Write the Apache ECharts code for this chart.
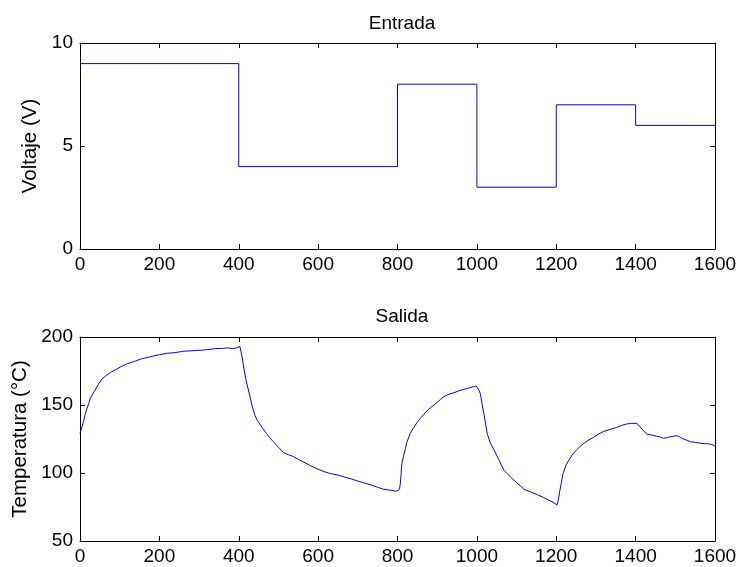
<!DOCTYPE html>
<html>
<head>
<meta charset="utf-8">
<script src="https://cdn.jsdelivr.net/npm/echarts@6/dist/echarts.min.js"></script>
<style>
html,body{margin:0;padding:0;background:#fff;}
#c{width:740px;height:567px;}
</style>
</head>
<body>
<div id="c"></div>
<script>
// Input (Entrada): step changes of voltage
var inTime = [0, 400, 800, 1000, 1200, 1400, 1600];
var inVolt = [9, 4, 8, 3, 7, 6, 6];

// Output (Salida): temperature response
var outTime = [0,5,9,13,17,22,26,32,38,46,55,65,77,90,102,120,137,155,171,185,200,220,239,260,290,315,342,357,370,385,395,403,408,414,420,427,433,440,446,453,460,470,478,487,500,513,525,538,550,564,580,598,615,632,650,667,685,701,718,735,750,765,778,790,797,802,805,807,809,811,815,820,824,832,840,849,857,866,875,883,892,900,908,916,930,942,955,967,980,992,998,1002,1005,1009,1013,1018,1022,1026,1034,1043,1055,1068,1085,1100,1119,1136,1153,1168,1181,1192,1202,1205,1209,1213,1217,1225,1234,1242,1251,1260,1268,1280,1293,1306,1319,1335,1352,1365,1377,1390,1403,1407,1411,1420,1428,1440,1453,1462,1470,1478,1485,1490,1496,1502,1508,1514,1520,1530,1538,1550,1562,1575,1583,1591,1596,1600];
var outTemp = [129,134,138,143,147,151,155,158,161,165,169,171.5,174,176,178,180.5,182,184,185,186,187,188,188.5,189.5,190,190.5,191.5,191.5,192,191.5,192,193,186,175,166,158,150,143,139,136,133,129,126,123,119,115,113.5,112,110,108,105.5,103,101,99.5,98.5,97,95.5,94,92.5,91,89.5,88,87.5,87,86.5,86,88,92,99,107,112,118,123,129,133,137,140,143,146,148,150,152,154,156,158,159,160.5,161.5,162.5,163.5,164,165,161,158,151,143,136,129,122,117,110,102,97,93,88,86,84,82,80,78.5,76.5,80,87,93,99.5,106,110.5,114,117,119.5,121.5,124,126,128.5,130.5,132,133.5,135,136,136.5,136.5,135.5,134,131,128.5,128,127,126.5,125.5,126,126.5,126,127,127.5,127,126,125,124,123,122.5,122,121.5,121.5,121,121.5,120];

var xTicks = [0, 1600, 200];
var topY = [0, 10, 5];
var botY = [50, 200, 50];

var FONT = 'Liberation Sans, Arial, sans-serif';
var FS = 19;
var AX = '#000';

function mk(a, b){ var r=[]; for(var i=0;i<a.length;i++) r.push([a[i],b[i]]); return r; }

function xAx(gi, show){
  return {type:'value', gridIndex:gi, min:xTicks[0], max:xTicks[1], interval:xTicks[2],
    position: show ? 'bottom' : 'top',
    axisLine:{show:true, onZero:false, lineStyle:{color:AX,width:1}},
    axisTick:{show:true, inside:true, length:5, lineStyle:{color:AX}},
    axisLabel:{show:show, color:'#000', fontFamily:FONT, fontSize:FS, margin:6,
      formatter:function(v){return String(v);}},
    splitLine:{show:false}};
}
function yAx(gi, rng, show, name, gap){
  return {type:'value', gridIndex:gi, min:rng[0], max:rng[1], interval:rng[2],
    position: show ? 'left' : 'right',
    name: show ? name : '', nameLocation:'middle', nameGap:gap,
    nameTextStyle:{color:'#000', fontFamily:FONT, fontSize:20.5},
    axisLine:{show:true, onZero:false, lineStyle:{color:AX,width:1}},
    axisTick:{show:true, inside:true, length:5, lineStyle:{color:AX}},
    axisLabel:{show:show, color:'#000', fontFamily:FONT, fontSize:FS, margin:7,
      formatter:function(v){return String(v);}},
    splitLine:{show:false}};
}

var chart = echarts.init(document.getElementById('c'));
chart.setOption({
  animation:false,
  backgroundColor:'#fff',
  title:[
    {text:'Entrada', left:397, top:9, textAlign:'center', textStyle:{fontFamily:FONT, fontSize:FS, fontWeight:'normal', color:'#000'}},
    {text:'Salida', left:397, top:302, textAlign:'center', textStyle:{fontFamily:FONT, fontSize:FS, fontWeight:'normal', color:'#000'}}
  ],
  grid:[
    {left:80, top:43, width:635, height:206},
    {left:80, top:337, width:635, height:204}
  ],
  xAxis:[xAx(0,true), xAx(0,false), xAx(1,true), xAx(1,false)],
  yAxis:[yAx(0,topY,true,'Voltaje (V)',36), yAx(0,topY,false,'',0), yAx(1,botY,true,'Temperatura (°C)',47), yAx(1,botY,false,'',0)],
  series:[
    {type:'line', xAxisIndex:0, yAxisIndex:0, step:'end', data:mk(inTime, inVolt),
     showSymbol:false, lineStyle:{color:'#0000ff', width:1}},
    {type:'line', xAxisIndex:2, yAxisIndex:2, data:mk(outTime,outTemp), showSymbol:false,
     lineStyle:{color:'#0000ff', width:1}}
  ]
});
</script>
</body>
</html>
